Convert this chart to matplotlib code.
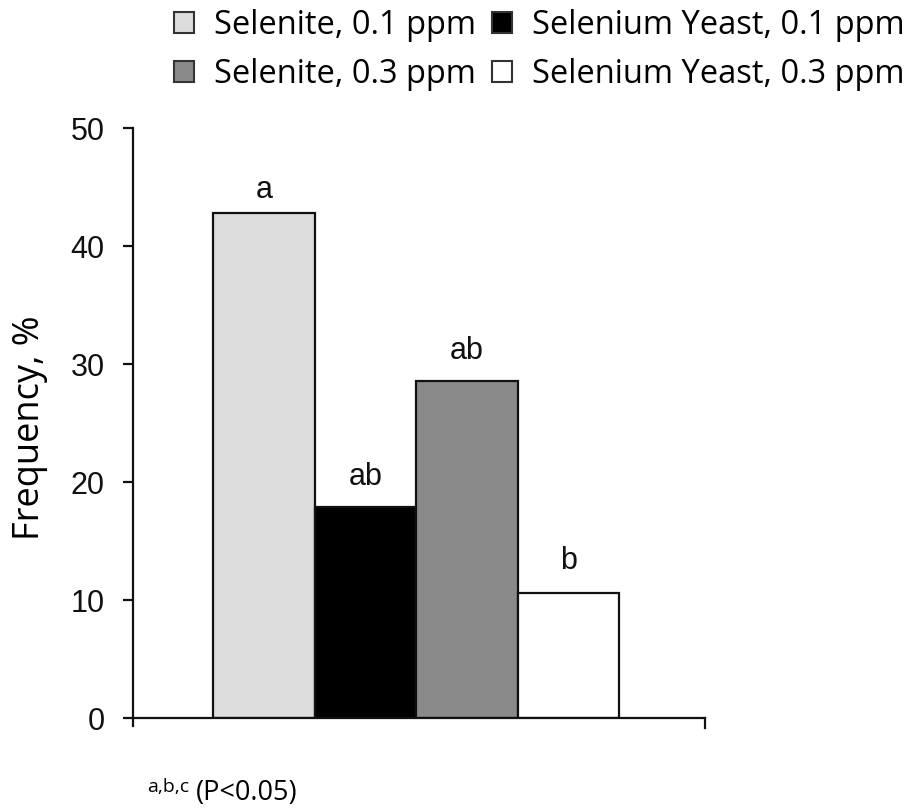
import matplotlib
matplotlib.use("Agg")
import matplotlib.pyplot as plt
from matplotlib.patches import Patch
import numpy as np

groups = ["Selenite, 0.1 ppm", "Selenium Yeast, 0.1 ppm",
          "Selenite, 0.3 ppm", "Selenium Yeast, 0.3 ppm"]
frequency = [42.8, 17.9, 28.6, 10.6]
letters = ["a", "ab", "ab", "b"]
colors = ["#dcdcdc", "#000000", "#8a8a8a", "#ffffff"]
yticks = [0, 10, 20, 30, 40, 50]

# layout (pixel-based)
W, H = 909, 808
left, right, bottom, top = 133, 705, 718, 128
px_per_unit = (bottom - top) / 50.0
letter_gap_px = [8, 15, 15, 17]

fig = plt.figure(figsize=(W / 100, H / 100), dpi=100)
ax = fig.add_axes([left / W, 1 - bottom / H, (right - left) / W, (bottom - top) / H])

barw = 1.0
x = np.arange(len(frequency)) + 1.29
ax.bar(x, frequency, width=barw, color=colors, edgecolor="#111111", linewidth=1.6)
for xi, v, t, g in zip(x, frequency, letters, letter_gap_px):
    ax.text(xi, v + g / px_per_unit, t, ha="center", va="bottom", fontsize=22,
            family="Liberation Sans", color="#111111")

ax.set_xlim(0, (right - left) / 101.5)
ax.set_ylim(0, 50)
ax.set_yticks(yticks)
ax.set_yticklabels([str(t) for t in yticks], family="Liberation Sans", fontsize=22)
ax.tick_params(axis="y", direction="out", length=7.5, width=1.6, pad=13, colors="#111111")
ax.set_xticks([])
for s in ["top", "right"]:
    ax.spines[s].set_visible(False)
for s in ["left", "bottom"]:
    ax.spines[s].set_linewidth(1.6)
    ax.spines[s].set_color("#111111")
# small downward tick at right end of x axis and y axis overhang below zero
ax.plot([1, 1], [0, -10 / (bottom - top)], transform=ax.transAxes, color="#111111",
        lw=1.6, clip_on=False)
ax.plot([0, 0], [0, -8 / (bottom - top)], transform=ax.transAxes, color="#111111",
        lw=1.6, clip_on=False)

fig.text(30 / W, 1 - 428 / H, "Frequency, %", rotation=90, ha="center", va="center",
         fontsize=26, family="Open Sans")

fig.text(147 / W, 1 - 792 / H, "a,b,c", ha="left", va="baseline",
         fontsize=14, family="Open Sans")
fig.text(196 / W, 1 - 800 / H, "(P<0.05)", ha="left", va="baseline",
         fontsize=19.5, family="Open Sans")

handles = [Patch(facecolor=c, edgecolor="#333333", linewidth=1.5) for c in colors]
order = [0, 2, 1, 3]
leg = fig.legend([handles[i] for i in order], [groups[i] for i in order], ncol=2,
                 loc="upper left", bbox_to_anchor=(174 / W, 1 - 9 / H), frameon=False,
                 handlelength=0.6, handleheight=0.6, handletextpad=0.62,
                 columnspacing=0.5, labelspacing=0.5, borderpad=0.0, borderaxespad=0.0,
                 prop={"family": "Open Sans", "size": 23.5})

fig.savefig("out.png", dpi=100, facecolor="white")
